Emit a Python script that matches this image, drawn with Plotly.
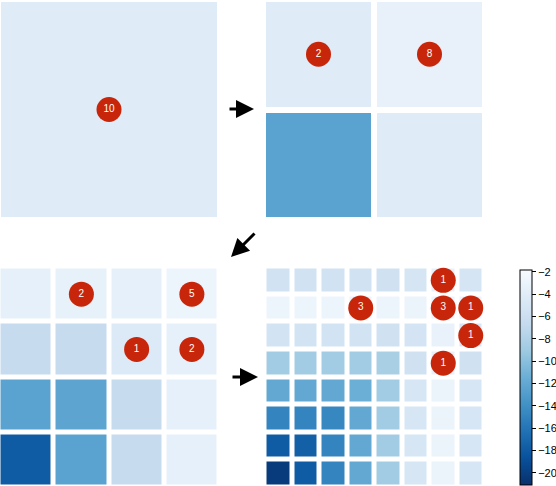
import plotly.graph_objects as go

W, H = 556, 486

# cell values, rows top -> bottom
z1 = [[-4.2]]
z2 = [[-4.2, -3.3],
      [-12.5, -4.2]]
z3 = [[-3.5, -3.4, -3.5, -2.9],
      [-6.6, -6.6, -4.5, -3.5],
      [-12.5, -12.3, -6.6, -3.5],
      [-17.9, -12.5, -6.6, -3.5]]
z4 = [[-5.6, -5.6, -5.6, -5.6, -5.7, -5.2, -3.4, -5.2],
      [-2.9, -2.9, -2.9, -3.0, -2.9, -3.0, -3.0, -3.0],
      [-5.5, -5.5, -5.5, -5.5, -5.7, -5.3, -3.2, -5.0],
      [-8.8, -8.8, -8.8, -8.8, -8.4, -5.7, -3.3, -5.7],
      [-12.0, -12.0, -12.0, -11.5, -8.8, -5.0, -3.0, -5.0],
      [-14.9, -14.9, -14.7, -12.0, -8.8, -5.0, -3.0, -5.0],
      [-17.9, -17.6, -14.9, -12.0, -8.8, -5.0, -3.0, -5.0],
      [-20.3, -17.9, -14.9, -12.0, -8.8, -5.0, -3.0, -5.0]]

# counts per cell: (col, row, count)
counts1 = [(0, 0, 10)]
counts2 = [(0, 0, 2), (1, 0, 8)]
counts3 = [(1, 0, 2), (3, 0, 5), (2, 1, 1), (3, 1, 2)]
counts4 = [(6, 0, 1), (3, 1, 3), (6, 1, 3), (7, 1, 1), (7, 2, 1), (6, 3, 1)]

cbar_ticks = [-2, -4, -6, -8, -10, -12, -14, -16, -18, -20]
zmin, zmax = -21.1, -1.85

# matplotlib Blues, reversed (dark = low)
blues = ["#f7fbff", "#deebf7", "#c6dbef", "#9ecae1", "#6baed6",
         "#4292c6", "#2171b5", "#08519c", "#08306b"]
cscale = [[i / 8, c] for i, c in enumerate(blues[::-1])]

# pixel box of each panel: left, right, top, bottom, n, gap
panels = [
    (1, 217, 2, 217, 1, 0, z1, counts1),
    (266, 482, 2, 217, 2, 6, z2, counts2),
    (1, 217, 269, 485, 4, 5, z3, counts3),
    (267, 482, 269, 485, 8, 5, z4, counts4),
]


def axes_for(x0, x1, y0, y1, n, gap):
    px = (x1 - x0 + gap) / n
    bl = x0 - gap / 2
    dl, dr = max(0, bl), min(W, bl + n * px)
    xr = [-0.5 + (dl - bl) / px, -0.5 + (dr - bl) / px]
    py = (y1 - y0 + gap) / n
    bt = y0 - gap / 2
    dt, db = max(0, bt), min(H, bt + n * py)
    yr = [-0.5 + (db - bt) / py, -0.5 + (dt - bt) / py]
    return [dl / W, dr / W], xr, [(H - db) / H, (H - dt) / H], yr


fig = go.Figure()
layout = {}
for i, (x0, x1, y0, y1, n, gap, z, cnt) in enumerate(panels):
    k = "" if i == 0 else str(i + 1)
    xd, xr, yd, yr = axes_for(x0, x1, y0, y1, n, gap)
    layout["xaxis" + k] = dict(domain=xd, range=xr, visible=False, fixedrange=True,
                               anchor="y" + k)
    layout["yaxis" + k] = dict(domain=yd, range=yr, visible=False, fixedrange=True,
                               anchor="x" + k)
    fig.add_trace(go.Heatmap(z=z, coloraxis="coloraxis", xgap=gap, ygap=gap,
                             xaxis="x" + k, yaxis="y" + k, hoverinfo="skip"))
    fig.add_trace(go.Scatter(
        x=[c[0] for c in cnt], y=[c[1] for c in cnt],
        text=[str(c[2]) for c in cnt], mode="markers+text",
        textposition="middle center",
        textfont=dict(color="white", size=10, family="Liberation Sans"),
        marker=dict(size=25, color="#c8260a", line=dict(width=0)),
        xaxis="x" + k, yaxis="y" + k, showlegend=False, hoverinfo="skip"))

# arrows: (tip x, tip y, tail dx, tail dy) in pixels
arrows = [(254, 109, -26, 0), (231, 257, 25, -25), (258, 377, -27, 0)]
annotations = [
    dict(x=ax / W, y=(H - ay) / H, xref="paper", yref="paper", text="",
         showarrow=True, ax=dx, ay=dy, arrowhead=2, arrowsize=1.2,
         arrowwidth=3, arrowcolor="black", standoff=0, startstandoff=0)
    for ax, ay, dx, dy in arrows
]

fig.update_layout(
    width=W, height=H,
    margin=dict(l=0, r=0, t=0, b=0, pad=0, autoexpand=False),
    paper_bgcolor="white", plot_bgcolor="white", showlegend=False,
    annotations=annotations,
    coloraxis=dict(
        colorscale=cscale, cmin=zmin, cmax=zmax,
        colorbar=dict(
            x=520 / W, xanchor="left", xpad=0, ypad=0,
            y=(H - 485) / H, yanchor="bottom", len=(485 - 270) / H,
            thickness=12, outlinewidth=1, outlinecolor="black",
            ticks="outside", ticklen=4, tickcolor="black",
            tickvals=cbar_ticks,
            tickfont=dict(family="Liberation Sans", size=11, color="black"),
        ),
    ),
    **layout,
)

# page body has a default 8px margin; remove it so the figure sits at 0,0
fig.write_html("out.html", config={"displayModeBar": False},
               post_script="document.body.style.margin='0';")
